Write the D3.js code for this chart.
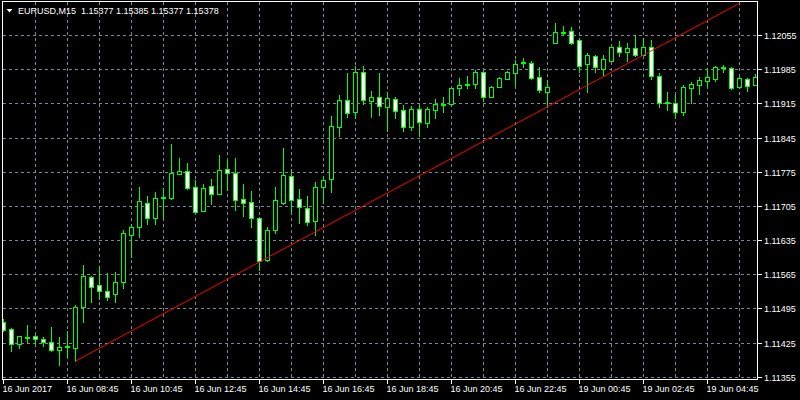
<!DOCTYPE html>
<html>
<head>
<meta charset="utf-8">
<script src="https://cdn.jsdelivr.net/npm/d3@7"></script>
<style>
  html, body { margin: 0; padding: 0; background: #000; }
  svg { display: block; }
  text { font-family: "Liberation Sans", Arial, sans-serif; font-size: 9px; fill: #fff; white-space: pre; }
</style>
</head>
<body>
<svg id="chart" width="800" height="400"></svg>
<script>
// ---- data ----
const symbolTitle = "EURUSD,M15  1.15377 1.15385 1.15377 1.15378";
const openP = [1.11467,1.11453,1.11422,1.11435,1.11438,1.11433,1.11426,1.11409,1.11415,1.11414,
  1.11497,1.11559,1.11543,1.11531,1.11524,1.11548,1.11646,1.11661,1.11711,1.11680,
  1.11722,1.11722,1.11771,1.11776,1.11743,1.11695,1.11745,1.11730,1.11780,1.11772,
  1.11720,1.11712,1.11680,1.11594,1.11655,1.11710,1.11766,1.11720,1.11700,1.11673,
  1.11743,1.11759,1.11866,1.11921,1.11897,1.11979,1.11919,1.11927,1.11907,1.11923,
  1.11901,1.11866,1.11903,1.11875,1.11901,1.11913,1.11914,1.11946,1.11953,1.11954,
  1.11979,1.11929,1.11949,1.11965,1.11978,1.11998,1.11997,1.11968,1.11939,1.12039,
  1.12060,1.12063,1.12045,1.11995,1.12013,1.11985,1.12002,1.12030,1.12020,1.12028,
  1.12015,1.12030,1.11970,1.11916,1.11915,1.11898,1.11947,1.11953,1.11961,1.11965,
  1.11988,1.11987,1.11948,1.11964,1.11953];
const highP = [1.11473,1.11455,1.11439,1.11461,1.11440,1.11436,1.11457,1.11436,1.11449,1.11502,
  1.11584,1.11561,1.11582,1.11567,1.11569,1.11656,1.11667,1.11743,1.11725,1.11733,
  1.11741,1.11832,1.11803,1.11793,1.11758,1.11750,1.11760,1.11809,1.11799,1.11803,
  1.11750,1.11735,1.11682,1.11661,1.11744,1.11824,1.11780,1.11739,1.11725,1.11753,
  1.11766,1.11889,1.11932,1.11977,1.11992,1.11992,1.11940,1.11977,1.11938,1.11927,
  1.11912,1.11910,1.11912,1.11907,1.11923,1.11927,1.11947,1.11966,1.11971,1.11983,
  1.11981,1.11951,1.11968,1.11981,1.12004,1.12008,1.12002,1.11990,1.11963,1.12079,
  1.12073,1.12071,1.12046,1.12019,1.12014,1.12014,1.12031,1.12043,1.12038,1.12056,
  1.12048,1.12045,1.11978,1.11939,1.11932,1.11953,1.11959,1.11968,1.11987,1.11992,
  1.11994,1.11990,1.11971,1.11966,1.11976];
const lowP = [1.11449,1.11408,1.11414,1.11426,1.11422,1.11417,1.11407,1.11378,1.11396,1.11387,
  1.11468,1.11509,1.11514,1.11512,1.11509,1.11536,1.11601,1.11642,1.11668,1.11667,
  1.11680,1.11720,1.11770,1.11740,1.11692,1.11694,1.11709,1.11729,1.11737,1.11697,
  1.11685,1.11662,1.11574,1.11593,1.11650,1.11709,1.11693,1.11669,1.11666,1.11645,
  1.11710,1.11733,1.11848,1.11888,1.11884,1.11913,1.11888,1.11892,1.11859,1.11884,
  1.11859,1.11860,1.11848,1.11866,1.11884,1.11898,1.11912,1.11932,1.11946,1.11946,
  1.11920,1.11927,1.11948,1.11964,1.11951,1.11990,1.11965,1.11939,1.11908,1.12038,
  1.12054,1.12037,1.11980,1.11939,1.11979,1.11972,1.12001,1.12013,1.12002,1.12013,
  1.12014,1.11964,1.11908,1.11901,1.11884,1.11891,1.11915,1.11934,1.11948,1.11961,
  1.11979,1.11944,1.11947,1.11940,1.11952];
const closeP = [1.11451,1.11422,1.11438,1.11437,1.11433,1.11427,1.11409,1.11415,1.11418,1.11497,
  1.11561,1.11539,1.11531,1.11519,1.11548,1.11649,1.11661,1.11714,1.11680,1.11722,
  1.11723,1.11772,1.11776,1.11742,1.11693,1.11741,1.11730,1.11778,1.11772,1.11718,
  1.11710,1.11680,1.11591,1.11655,1.11716,1.11768,1.11716,1.11702,1.11671,1.11743,
  1.11757,1.11868,1.11921,1.11895,1.11979,1.11921,1.11927,1.11909,1.11925,1.11900,
  1.11866,1.11903,1.11877,1.11903,1.11914,1.11914,1.11946,1.11952,1.11954,1.11979,
  1.11927,1.11948,1.11966,1.11979,1.11996,1.11999,1.11966,1.11943,1.11948,1.12061,
  1.12061,1.12039,1.11992,1.12014,1.11989,1.12006,1.12030,1.12020,1.12028,1.12015,
  1.12031,1.11970,1.11915,1.11917,1.11898,1.11948,1.11954,1.11963,1.11968,1.11989,
  1.11989,1.11947,1.11966,1.11951,1.11968];
const priceTicks = [1.11355,1.11425,1.11495,1.11565,1.11635,1.11705,1.11775,1.11845,1.11915,1.11985,1.12055];
const timeLabels = ["16 Jun 2017","16 Jun 08:45","16 Jun 10:45","16 Jun 12:45","16 Jun 14:45","16 Jun 16:45",
  "16 Jun 18:45","16 Jun 20:45","16 Jun 22:45","19 Jun 00:45","19 Jun 02:45","19 Jun 04:45"];
const timeLabelBars = [0,8,16,24,32,40,48,56,64,72,80,88];
const trendBars = [9, 92];
const trendPrices = [1.11387, 1.12120];

// ---- drawing ----
const svg = d3.select("#chart");
const frame = {left: 2.5, top: 1.5, right: 757.5, bottom: 379.5};
const n = openP.length;
const x = d3.scaleLinear().domain([0, n - 1]).range([3.5, 3.5 + 8 * (n - 1)]);
const y = d3.scaleLinear().domain([1.11355, 1.12055]).range([376.7, 35]);
const ry = v => Math.round(y(v)) + 0.5;

svg.append("rect").attr("width", 800).attr("height", 400).attr("fill", "#000");

svg.append("defs").append("clipPath").attr("id", "plot")
  .append("rect").attr("x", frame.left + 0.5).attr("y", frame.top + 0.5)
  .attr("width", frame.right - frame.left - 1).attr("height", frame.bottom - frame.top - 1);

const grid = svg.append("g").attr("stroke", "#778899").attr("stroke-width", 1)
  .attr("stroke-dasharray", "3,3").attr("shape-rendering", "crispEdges");
grid.selectAll("line.h").data(priceTicks).join("line").attr("class", "h")
  .attr("x1", frame.left).attr("x2", frame.right).attr("y1", d => ry(d)).attr("y2", d => ry(d));
const vBars = d3.range(4, n, 4);
grid.selectAll("line.v").data(vBars).join("line").attr("class", "v")
  .attr("x1", d => x(d)).attr("x2", d => x(d)).attr("y1", frame.top).attr("y2", frame.bottom);

const plot = svg.append("g").attr("clip-path", "url(#plot)").attr("shape-rendering", "crispEdges");
const idx = d3.range(n);
plot.selectAll("line.wick").data(idx).join("line").attr("class", "wick")
  .attr("x1", i => x(i)).attr("x2", i => x(i))
  .attr("y1", i => ry(highP[i]) - 0.5).attr("y2", i => ry(lowP[i]) + 0.5)
  .attr("stroke", "#00ff00").attr("stroke-width", 1);
plot.selectAll("rect.body").data(idx).join("rect").attr("class", "body")
  .attr("x", i => x(i) - 2)
  .attr("width", 4)
  .attr("y", i => ry(Math.max(openP[i], closeP[i])))
  .attr("height", i => Math.max(1, ry(Math.min(openP[i], closeP[i])) - ry(Math.max(openP[i], closeP[i]))))
  .attr("fill", i => closeP[i] >= openP[i] ? "#000" : "#fff")
  .attr("stroke", "#00ff00").attr("stroke-width", 1);

svg.append("line")
  .attr("x1", x(trendBars[0])).attr("y1", y(trendPrices[0]))
  .attr("x2", x(trendBars[1])).attr("y2", y(trendPrices[1]))
  .attr("stroke", "#ff0000").attr("stroke-width", 1);

// frame
svg.append("rect").attr("x", frame.left).attr("y", frame.top)
  .attr("width", frame.right - frame.left).attr("height", frame.bottom - frame.top)
  .attr("fill", "none").attr("stroke", "#fff").attr("stroke-width", 1).attr("shape-rendering", "crispEdges");

// price axis
const pa = svg.append("g").attr("shape-rendering", "crispEdges");
pa.selectAll("line").data(priceTicks).join("line")
  .attr("x1", frame.right).attr("x2", frame.right + 4)
  .attr("y1", d => ry(d)).attr("y2", d => ry(d)).attr("stroke", "#fff");
svg.append("g").selectAll("text").data(priceTicks).join("text")
  .attr("x", frame.right + 6.5).attr("y", d => ry(d) + 3.5)
  .text(d => d3.format(".5f")(d));

// time axis
const ta = svg.append("g").attr("shape-rendering", "crispEdges");
ta.selectAll("line").data(timeLabelBars).join("line")
  .attr("x1", d => x(d)).attr("x2", d => x(d))
  .attr("y1", frame.bottom).attr("y2", frame.bottom + 4).attr("stroke", "#fff");
svg.append("g").selectAll("text").data(timeLabels).join("text")
  .attr("x", (d, i) => x(timeLabelBars[i]) - 1).attr("y", 392)
  .text(d => d);

// header
svg.append("path").attr("d", "M6.5,9 L12.5,9 L9.5,12.5 Z").attr("fill", "#fff");
svg.append("text").attr("x", 18).attr("y", 14).text(symbolTitle);
</script>
</body>
</html>
